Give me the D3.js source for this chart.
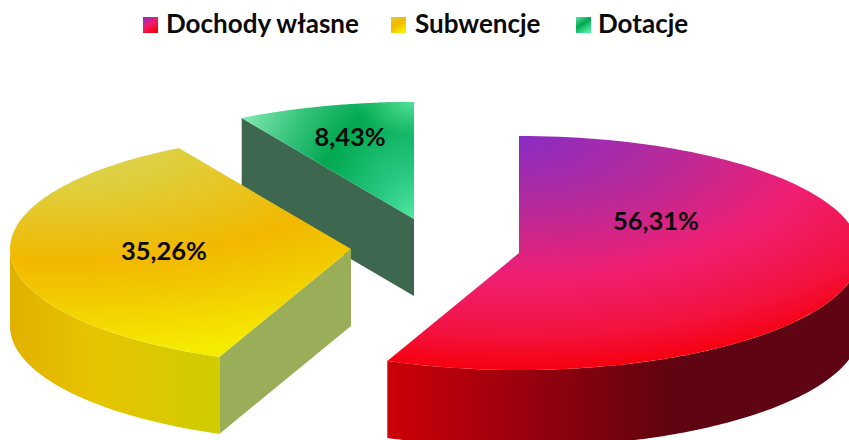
<!DOCTYPE html>
<html lang="pl"><head><meta charset="utf-8">
<script src="https://cdn.jsdelivr.net/npm/d3@7"></script>
<style>html,body{margin:0;padding:0;background:#fff;overflow:hidden}
svg{display:block}text{font-family:Lato,"Noto Sans",sans-serif;font-weight:700;fill:#0a0a0a}</style>
</head><body><svg id="c" width="849" height="440"></svg>
<script>
const categories=["Dochody własne","Subwencje","Dotacje"];
const shares=[56.31,35.26,8.43];
const labels=["56,31%","35,26%","8,43%"];

const W=849,H=440,RX=341,RY=117,DEPTH=77;
const origins=[[519,253],[351,249],[414,219]];
const labelPos=[[656,222],[164,252],[350,138]];
const wallCol=["#7a0010","#9aae5a","#3e674f"];
const legendSwatchX=[143,391,576],legendTextX=[166,415,598];

const svg=d3.select("#c");
const defs=svg.append("defs");
function radial(id,cx,cy,rx,ry,stops){
  const g=defs.append("radialGradient").attr("id",id).attr("gradientUnits","userSpaceOnUse")
    .attr("cx",0).attr("cy",0).attr("r",1)
    .attr("gradientTransform",`translate(${cx},${cy}) scale(${rx},${ry})`);
  stops.forEach(s=>g.append("stop").attr("offset",s[0]).attr("stop-color",s[1]).attr("stop-opacity",s[2]===undefined?1:s[2]));
}
function linear(id,x1,x2,stops){
  const g=defs.append("linearGradient").attr("id",id).attr("gradientUnits","userSpaceOnUse")
    .attr("x1",x1).attr("x2",x2).attr("y1",0).attr("y2",0);
  stops.forEach(s=>g.append("stop").attr("offset",s[0]).attr("stop-color",s[1]));
}
function swatch(id,stops){
  const g=defs.append("linearGradient").attr("id",id).attr("x1",0).attr("y1",0).attr("x2",.6).attr("y2",1);
  stops.forEach(s=>g.append("stop").attr("offset",s[0]).attr("stop-color",s[1]));
}
radial("top0",519,136,500,234,[[0,"#8a2cc4"],[.3,"#b52a9c"],[.6,"#f01f72"],[.85,"#f3123f"],[1,"#f6000f"]]);
radial("top1",60,140,560,216,[[0,"#d8d860"],[.25,"#e0cd38"],[.56,"#f2b800"],[.75,"#f2cc00"],[1,"#f6ec00"]]);
radial("top2",414,219,190,230,[[0,"#50e8a0"],[.2,"#28c880"],[.52,"#00a850"],[.72,"#30c078"],[1,"#80e8b0"]]);
radial("top2b",414,100,60,36,[[0,"#58e49c",1],[1,"#58e49c",0]]);
linear("wall0",388,700,[[0,"#cc0008"],[.45,"#98000e"],[.9,"#600410"],[1,"#5f0412"]]);
linear("wall1",10,219,[[0,"#e2b000"],[.4,"#e6c400"],[1,"#d0cc00"]]);
swatch("sw0",[[0,"#7a30d0"],[.5,"#f01f72"],[1,"#f6000f"]]);
swatch("sw1",[[0,"#e0cc38"],[.5,"#f2b800"],[1,"#f6ec00"]]);
swatch("sw2",[[0,"#60e0a0"],[.5,"#00a850"],[1,"#50e8a0"]]);

const arcs=d3.pie().sort(null)(shares);
const px=a=>RX*Math.sin(a), py=a=>-RY*Math.cos(a);
const line=d3.line();

// back-to-front: Dotacje, Subwencje, Dochody własne
[2,1,0].forEach(i=>{
  const d=arcs[i],[ox,oy]=origins[i];
  // radial cut wall on the start side, when it faces the viewer
  if(Math.sin(d.startAngle)<-1e-6){
    const x=px(d.startAngle)+ox,y=py(d.startAngle)+oy;
    svg.append("path").attr("fill",wallCol[i])
      .attr("d",line([[ox,oy],[x,y],[x,y+DEPTH],[ox,oy+DEPTH]])+"Z");
  }
  // curved outer wall, front half of the ellipse only
  const a0=Math.max(d.startAngle,Math.PI/2),a1=Math.min(d.endAngle,3*Math.PI/2);
  if(a1>a0){
    const steps=d3.range(0,121).map(k=>a0+(a1-a0)*k/120);
    const upper=steps.map(a=>[px(a)+ox,py(a)+oy]);
    const lower=steps.slice().reverse().map(a=>[px(a)+ox,py(a)+oy+DEPTH]);
    svg.append("path").attr("fill",`url(#wall${i})`).attr("d",line(upper.concat(lower))+"Z");
  }
  // top face
  const pts=d3.range(0,121).map(k=>{const a=d.startAngle+(d.endAngle-d.startAngle)*k/120;return [px(a)+ox,py(a)+oy];});
  const facePath=line([[ox,oy]].concat(pts))+"Z";
  svg.append("path").attr("fill",`url(#top${i})`).attr("d",facePath);
  if(i===2) svg.append("path").attr("fill","url(#top2b)").attr("d",facePath);
});

labels.forEach((t,i)=>{
  svg.append("text").attr("x",labelPos[i][0]).attr("y",labelPos[i][1]+8)
    .attr("text-anchor","middle").attr("font-size",25.5).text(t);
});
categories.forEach((t,i)=>{
  svg.append("rect").attr("x",legendSwatchX[i]).attr("y",17).attr("width",15).attr("height",16).attr("fill",`url(#sw${i})`);
  svg.append("text").attr("x",legendTextX[i]).attr("y",33).attr("font-size",26).text(t);
});
</script></body></html>
